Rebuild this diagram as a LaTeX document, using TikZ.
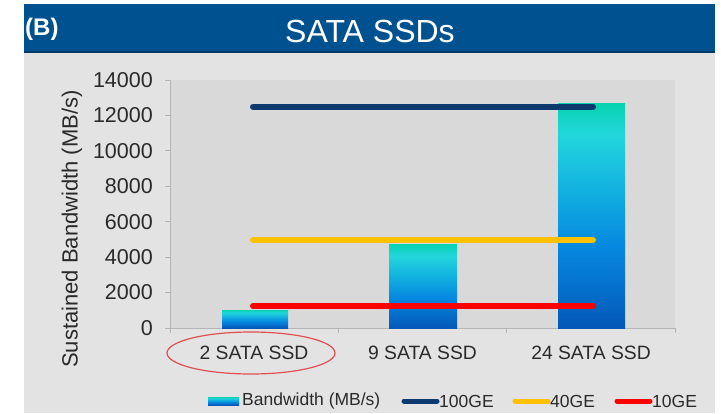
\documentclass[tikz,border=0pt]{standalone}
\usepackage{fontspec}
\setmainfont{Liberation Sans}
\usetikzlibrary{shapes.geometric}
\definecolor{titleblue}{HTML}{00518F}
\definecolor{titleedge}{HTML}{003A66}
\definecolor{panelgray}{HTML}{E3E3E3}
\definecolor{plotgray}{HTML}{D9D9D9}
\definecolor{axisgray}{HTML}{B4B4B4}
\definecolor{txtgray}{HTML}{2A2A2A}
\definecolor{navyline}{HTML}{0C3A6E}
\definecolor{goldline}{HTML}{FFC000}
\definecolor{redline}{HTML}{FF0000}
\definecolor{ovalred}{HTML}{E05050}
\definecolor{btop}{HTML}{08D2B0}
\definecolor{bcyan}{HTML}{22D6DC}
\definecolor{bmid}{HTML}{12B2E0}
\definecolor{blow}{HTML}{0688E0}
\definecolor{bbot}{HTML}{0458B8}
\pgfdeclareverticalshading{barshade}{100bp}{color(0bp)=(bbot); color(25bp)=(bbot); color(43bp)=(blow); color(56bp)=(bmid); color(68bp)=(bcyan); color(75bp)=(btop); color(100bp)=(btop)}
\tikzset{
  bar/.style={shading=barshade, draw=none},
  refline/.style={line width=6pt, line cap=round},
  legline/.style={line width=5pt, line cap=round},
  ticklab/.style={anchor=east, inner sep=0pt, text=txtgray, font=\fontsize{21.5}{24}\selectfont},
  catlab/.style={inner sep=0pt, text=txtgray, font=\fontsize{19.3}{22}\selectfont},
  leglab/.style={anchor=west, inner sep=0pt, text=txtgray, font=\fontsize{17.5}{20}\selectfont},
  axisline/.style={draw=axisgray, line width=0.9pt},
}
\begin{document}
\begin{tikzpicture}[x=1pt, y=-1pt]
\useasboundingbox (0,0) rectangle (721,413);
\fill[white] (0,0) rectangle (721,413);
% panel and title bar
\fill[panelgray] (24,53) rectangle (715,413);
\fill[titleblue] (24,4) rectangle (715,53);
\draw[titleedge, line width=2pt] (24,52) -- (715,52);
\node[text=white, font=\fontsize{32}{36}\selectfont] (title) at (370,31) {SATA SSDs};
\node[text=white, anchor=west, inner sep=0pt, font=\bfseries\fontsize{24}{28}\selectfont] (lab) at (25,29) {(B)};
% plot area
\fill[plotgray] (170,80) rectangle (675,328);
\coordinate (o) at (170,328);
\coordinate (ytop) at (170,80);
\coordinate (xend) at (675,328);
\draw[axisline] (ytop) -- (o) -- (xend);
\foreach \k/\v in {0/0,1/2000,2/4000,3/6000,4/8000,5/10000,6/12000,7/14000}{
  \draw[axisline] (165,{328-35.43*\k}) -- (170,{328-35.43*\k});
  \node[ticklab] (t\k) at (153,{328-35.43*\k}) {\v};
}
\foreach \xx in {170,338.3,506.7,675}{
  \draw[axisline] (\xx,328) -- (\xx,333);
}
% axis title
\node[rotate=90, text=txtgray, font=\fontsize{22}{26}\selectfont] (ytitle) at (72,229) {Sustained Bandwidth (MB/s)};
% bars
\path[bar] (222,310) rectangle (288,328);
\path[bar] (389,244) rectangle (457,328);
\path[bar] (558,103) rectangle (625,328);
% reference lines
\coordinate (g100a) at (253,106.6);
\coordinate (g100b) at (593,106.6);
\coordinate (g40a) at (253,240);
\coordinate (g40b) at (593,240);
\coordinate (g10a) at (253,306);
\coordinate (g10b) at (593,306);
\draw[refline, navyline] (g100a) -- (g100b);
\draw[refline, goldline] (g40a) -- (g40b);
\draw[refline, redline] (g10a) -- (g10b);
% category labels
\node[catlab] (c1) at (254,352.5) {2 SATA SSD};
\node[catlab] (c2) at (422.5,352.5) {9 SATA SSD};
\node[catlab] (c3) at (591,352.5) {24 SATA SSD};
\node[ellipse, draw=ovalred, line width=1.2pt, minimum width=168pt, minimum height=42pt, inner sep=0pt] (oval) at (251,353) {};
% legend
\path[bar] (208,397) rectangle (239,405);
\node[leglab] (l1) at (242,401) {Bandwidth (MB/s)};
\coordinate (s100a) at (404,401);
\coordinate (s100b) at (437,401);
\draw[legline, navyline] (s100a) -- (s100b);
\node[leglab] (l2) at (439,401) {100GE};
\coordinate (s40a) at (515,401);
\coordinate (s40b) at (548,401);
\draw[legline, goldline] (s40a) -- (s40b);
\node[leglab] (l3) at (550,401) {40GE};
\coordinate (s10a) at (617,401);
\coordinate (s10b) at (650,401);
\draw[legline, redline] (s10a) -- (s10b);
\node[leglab] (l4) at (652,401) {10GE};
\end{tikzpicture}
\end{document}
